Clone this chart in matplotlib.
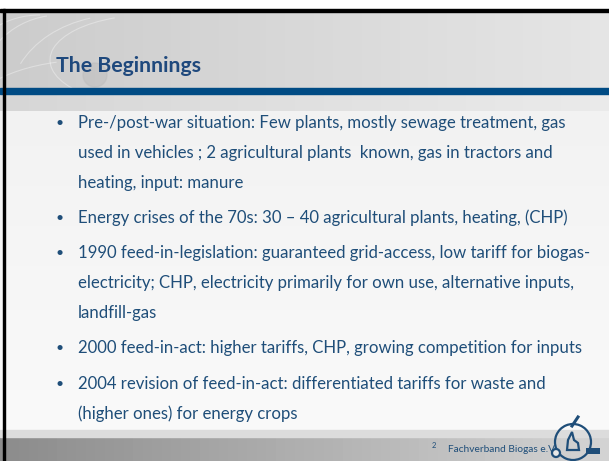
import numpy as np
import matplotlib.pyplot as plt
from matplotlib.patches import Rectangle, Circle, Arc, Polygon

plt.rcParams['font.family'] = ['Lato', 'DejaVu Sans']

title = 'The Beginnings'
bullets = [
    ['Pre-/post-war situation: Few plants, mostly sewage treatment, gas',
     'used in vehicles ; 2 agricultural plants  known, gas in tractors and',
     'heating, input: manure'],
    ['Energy crises of the 70s: 30 \u2013 40 agricultural plants, heating, (CHP)'],
    ['1990 feed-in-legislation: guaranteed grid-access, low tariff for biogas-',
     'electricity; CHP, electricity primarily for own use, alternative inputs,',
     'landfill-gas'],
    ['2000 feed-in-act: higher tariffs, CHP, growing competition for inputs'],
    ['2004 revision of feed-in-act: differentiated tariffs for waste and',
     '(higher ones) for energy crops'],
]
page_no = '2'
footer = 'Fachverband Biogas e.V.'

W, H = 609, 461
fig = plt.figure(figsize=(W / 100, H / 100), dpi=100)
ax = fig.add_axes([0, 0, 1, 1])
ax.set_xlim(0, W)
ax.set_ylim(H, 0)
ax.axis('off')

blue = '#1f4e79'


def vgrad(y0, y1, c0, c1, x0=0, x1=W):
    g = np.linspace(0, 1, 64).reshape(-1, 1)
    img = np.array(c0) + (np.array(c1) - np.array(c0)) * g[..., None]
    ax.imshow(img, extent=[x0, x1, y1, y0], aspect='auto', zorder=0)


def hgrad(y0, y1, c0, c1, x0=0, x1=W):
    g = np.linspace(0, 1, 64).reshape(1, -1)
    img = np.array(c0) + (np.array(c1) - np.array(c0)) * g[..., None]
    ax.imshow(img, extent=[x0, x1, y1, y0], aspect='auto', zorder=0)


# backgrounds
ax.add_patch(Rectangle((0, 0), W, 9, color='white', zorder=-1))
hgrad(12, 89, (0.80, 0.80, 0.80), (0.90, 0.90, 0.90))
hgrad(94, 112, (0.84, 0.84, 0.84), (0.92, 0.92, 0.92))
vgrad(112, 430, (0.95, 0.95, 0.95), (0.98, 0.98, 0.98))
ax.add_patch(Rectangle((0, 88.5), W, 5.5, color='#004b84', zorder=2))
ax.add_patch(Rectangle((0, 430), W, 7, color='#dcdcdc', zorder=1))
hgrad(437, H, (0.55, 0.55, 0.55), (0.83, 0.83, 0.83))

# faint straw texture top left
for (ax0, ay0, aw, ah, t1, t2) in [(60, 90, 160, 150, 180, 260), (40, 70, 140, 110, 190, 270),
                                   (120, 100, 220, 170, 200, 250), (20, 40, 90, 80, 200, 300),
                                   (150, 60, 200, 90, 160, 230), (90, 120, 250, 120, 180, 240)]:
    ax.add_patch(Arc((ax0, ay0), aw, ah, theta1=t1, theta2=t2, color='white',
                     lw=0.8, alpha=0.35, zorder=1))
ax.add_patch(Circle((95, 75), 12, color='#bdbdbd', alpha=0.5, zorder=1))

# frame lines
ax.add_patch(Rectangle((0, 9.5), W, 2.5, color='black', zorder=3))
ax.add_patch(Rectangle((3, 9.5), 2, H, color='black', zorder=3))

# title
ax.text(56, 72, title, fontsize=15.3, fontweight='bold', color='#1f497d',
        va='baseline', ha='left', zorder=4)

# bullets
y = 122.5
for item in bullets:
    ax.text(60, y, '\u2022', fontsize=10, color=blue, va='center', ha='center', zorder=4)
    for line in item:
        ax.text(78, y, line, fontsize=12.1, color=blue, va='center', zorder=4)
        y += 30
    y += 5.3

# footer
ax.text(432, 445, page_no, fontsize=5.5, color=blue, va='center', zorder=4)
ax.text(448, 449, footer, fontsize=7.3, color=blue, va='center', zorder=4)

# logo
cx, cy, r = 573, 442, 18
ax.add_patch(Arc((cx, cy), 2 * r, 2 * r, theta1=0, theta2=360, color=blue, lw=1.6, zorder=4))
ax.add_patch(Circle((cx - r + 1, cy + 11), 4, fc='#e8e8e8', ec=blue, lw=1.6, zorder=5))
ax.add_patch(Rectangle((cx + 13, cy + 6), 14, 6, fc=blue, zorder=5))
ax.add_patch(Polygon([[cx - 6, cy + 8], [cx - 5, cy - 2], [cx - 1, cy - 10], [cx + 1, cy - 2],
                      [cx + 5, cy + 1], [cx + 6, cy + 8]], closed=True, fc='none',
                     ec=blue, lw=1.6, zorder=5))
ax.plot([cx - 1, cx + 5], [cy - r + 2, cy - r - 7], color=blue, lw=2.2, zorder=5)

fig.savefig('out.png', dpi=100)
